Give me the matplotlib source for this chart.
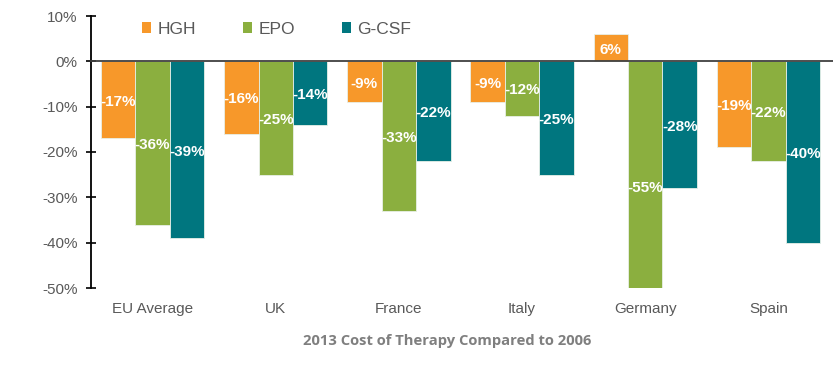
import numpy as np
import matplotlib.pyplot as plt
from matplotlib.patches import Patch

# Datos (% de cambio 2006 -> 2013)
countries = ["EU Average", "UK", "France", "Italy", "Germany", "Spain"]
hgh = [-17, -16, -9, -9, 6, -19]
epo = [-36, -25, -33, -12, -55, -22]
gcsf = [-39, -14, -22, -25, -28, -40]
series_names = ["HGH", "EPO", "G-CSF"]
colors = ["#F7982A", "#8BAF3F", "#00767F"]

plt.rcParams["font.family"] = ["Liberation Sans", "DejaVu Sans"]

fig = plt.figure(figsize=(8.33, 3.65), dpi=100)
ax = fig.add_axes([91 / 833, 77 / 365, 739 / 833, 272 / 365])

x = np.arange(len(countries))
w = 0.28
for i, (vals, c) in enumerate(zip([hgh, epo, gcsf], colors)):
    xs = x + (i - 1) * w
    ax.bar(xs, vals, width=w, color=c, edgecolor="#E8F0E8", linewidth=0.6, zorder=2)
    # etiqueta en el centro de la barra (sin recortar, como Excel)
    for xi, v in zip(xs, vals):
        ax.text(xi, v / 2 - 0.4, f"{v}%", ha="center", va="center", color="white",
                fontsize=11, fontweight="bold", zorder=4)

ax.set_xlim(-0.5, len(countries) - 0.5)
ax.set_ylim(-50, 10)
ax.axhline(0, color="#404040", linewidth=1.3, zorder=3, clip_on=False, xmax=1.01)

ax.set_yticks(np.arange(-50, 11, 10))
ax.set_yticklabels([f"{t}%" for t in range(-50, 11, 10)])
ax.set_xticks(x)
ax.set_xticklabels(countries)
ax.tick_params(axis="y", direction="inout", length=7, width=1.2, colors="black",
               labelcolor="#595959", labelsize=11, pad=6)
ax.tick_params(axis="x", length=0, labelcolor="#595959", labelsize=11, pad=10)

for s in ["top", "right", "bottom"]:
    ax.spines[s].set_visible(False)
ax.spines["left"].set_linewidth(1.3)
ax.spines["left"].set_color("black")

handles = [Patch(facecolor=c, label=n) for c, n in zip(colors, series_names)]
fig.legend(handles=handles, ncol=3, loc="center left", bbox_to_anchor=(135 / 833, 1 - 29 / 365),
           frameon=False, fontsize=12.5, labelcolor="#595959", handlelength=0.55,
           handleheight=0.55, handletextpad=0.35, columnspacing=2.7, borderaxespad=0)

fig.text(447 / 833, 1 - 341 / 365, "2013 Cost of Therapy Compared to 2006", ha="center",
         va="center", fontsize=10.6, fontweight="bold", color="#7F7F7F", family=["Open Sans", "DejaVu Sans"])

fig.savefig("out.png", dpi=100)
